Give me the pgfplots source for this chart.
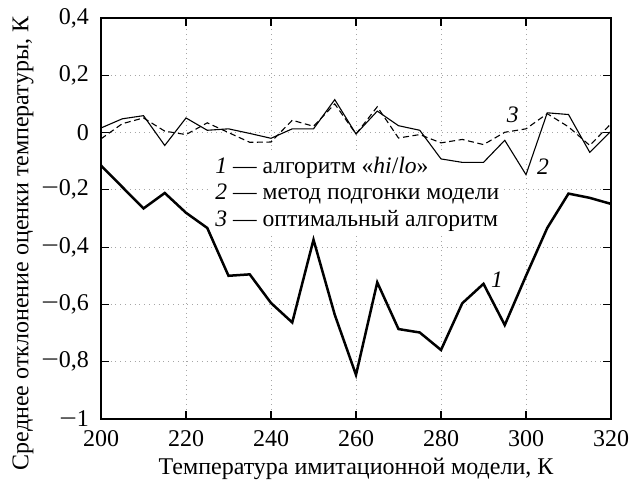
\documentclass[border=0pt]{standalone}
\usepackage{pgfplots}
\pgfplotsset{compat=1.18}
\usepackage{fontspec}
\setmainfont{Liberation Serif}
\newcommand\mn{\scalebox{1.3}[1]{−}}
\begin{document}
\begin{tikzpicture}
\begin{axis}[
  set layers=standard,
  scale only axis,
  width=255pt, height=200.5pt,
  xmin=200, xmax=320, ymin=-1, ymax=0.4,
  xtick={200,220,...,320},
  ytick={-1,-0.8,-0.6,-0.4,-0.2,0,0.2,0.4},
  yticklabels={\mn1,{\mn0,8},{\mn0,6},{\mn0,4},{\mn0,2},0,{0,2},{0,4}},
  /pgf/number format/assume math mode=true,
  tick align=inside,
  major tick length=4pt,
  tick style={black, line width=0.6pt},
  axis line style={line width=0.8pt},
  grid=major,
  major grid style={gray!70, dotted, line width=0.5pt},
  xlabel={Температура имитационной модели, К},
  ylabel={Среднее отклонение оценки температуры, К},
  xlabel style={yshift=1pt},
  ylabel style={yshift=-3pt, xshift=-12.5pt},
  yticklabel style={xshift=-2.5pt},
  xticklabel style={yshift=-2pt},
  ticklabel style={font=\rmfamily\fontsize{12}{13}\selectfont},
  label style={font=\rmfamily\fontsize{12}{14}\selectfont},
]
\begin{pgfonlayer}{pre main}
\node[fill=white, inner sep=2pt, anchor=north west, align=left, font=\rmfamily\fontsize{11.8}{13.3}\selectfont]
  at (axis cs:225.9,-0.07) {\textit{1} — алгоритм «\textit{hi}/\textit{lo}»\\ \textit{2} — метод подгонки модели\\ \textit{3} — оптимальный алгоритм};
\end{pgfonlayer}
\addplot[black, line width=1.25pt] coordinates {
(200,-0.115)(205,-0.19)(210,-0.265)(215,-0.211)(220,-0.28)(225,-0.333)
(230,-0.50)(235,-0.495)(240,-0.595)(245,-0.663)(250,-0.374)(255,-0.636)
(260,-0.846)(265,-0.523)(270,-0.686)(275,-0.698)(280,-0.759)(285,-0.596)
(290,-0.528)(295,-0.672)(300,-0.50)(305,-0.333)(310,-0.213)(315,-0.228)(320,-0.249)};
\addplot[black, line width=0.55pt] coordinates {
(200,0.016)(205,0.048)(210,0.059)(215,-0.045)(220,0.051)(225,0.008)
(230,0.013)(235,-0.003)(240,-0.02)(245,0.013)(250,0.013)(255,0.115)
(260,-0.005)(265,0.075)(270,0.024)(275,0.008)(280,-0.092)(285,-0.104)
(290,-0.104)(295,-0.027)(300,-0.147)(305,0.069)(310,0.063)(315,-0.069)(320,0.005)};
\addplot[black, line width=0.55pt, dash pattern=on 3pt off 1.8pt] coordinates {
(200,-0.022)(205,0.031)(210,0.051)(215,0.005)(220,-0.007)(225,0.034)
(230,0.0)(235,-0.034)(240,-0.033)(245,0.043)(250,0.022)(255,0.1)
(260,-0.005)(265,0.09)(270,-0.019)(275,-0.007)(280,-0.036)(285,-0.024)
(290,-0.042)(295,0.001)(300,0.013)(305,0.066)(310,0.02)(315,-0.045)(320,0.031)};
\node[font=\rmfamily\fontsize{11.8}{13}\selectfont\itshape] at (axis cs:296.9,0.063) {3};
\node[font=\rmfamily\fontsize{11.8}{13}\selectfont\itshape] at (axis cs:304,-0.119) {2};
\node[font=\rmfamily\fontsize{11.8}{13}\selectfont\itshape] at (axis cs:293.2,-0.514) {1};
\end{axis}
\pgfresetboundingbox
\useasboundingbox ([shift={(-50.5pt,-31.5pt)}]current axis.south west) rectangle ([shift={(15pt,9pt)}]current axis.north east);
\end{tikzpicture}
\end{document}
